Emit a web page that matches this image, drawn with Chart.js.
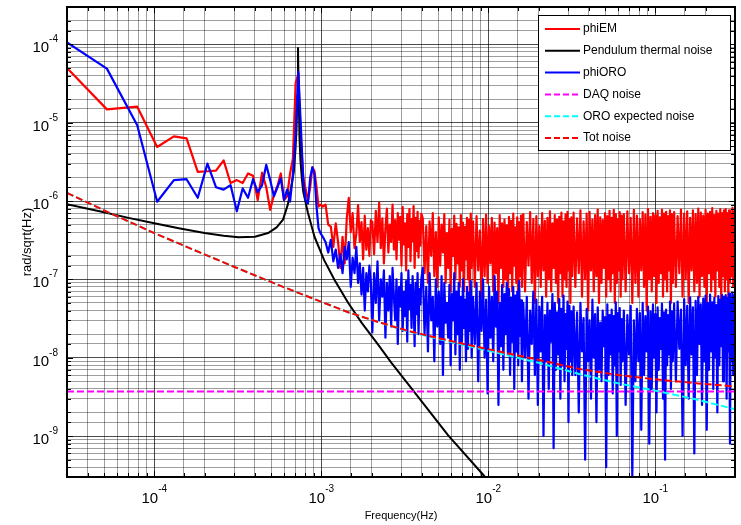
<!DOCTYPE html>
<html>
<head>
<meta charset="utf-8">
<script src="https://cdn.jsdelivr.net/npm/chart.js@4/dist/chart.umd.min.js"></script>
<style>
  html, body { margin: 0; padding: 0; background: #fff; }
  canvas { display: block; }
</style>
</head>
<body>
<canvas id="myChart" width="741" height="525"></canvas>
<script>
// ---- data ----
// low-frequency bins (Hz), shared by phiEM and phiORO
const lowFreq = [3e-5, 5.2e-5, 7.9e-5, 1.04e-4, 1.31e-4, 1.56e-4, 1.82e-4, 2.08e-4, 2.34e-4, 2.6e-4,
  2.86e-4, 3.12e-4, 3.38e-4, 3.64e-4, 3.9e-4, 4.16e-4, 4.42e-4, 4.68e-4, 4.94e-4, 5.2e-4,
  5.46e-4, 5.72e-4, 5.98e-4, 6.24e-4, 6.5e-4, 6.76e-4, 7.02e-4, 7.28e-4, 7.54e-4];
const emLow = [5.0e-5, 1.48e-5, 1.6e-5, 4.9e-6, 6.7e-6, 6.3e-6, 2.36e-6, 2.4e-6, 2.45e-6, 3.3e-6,
  1.7e-6, 1.85e-6, 1.7e-6, 2.25e-6, 2.1e-6, 1.03e-6, 2.3e-6, 1.5e-6, 7.7e-7, 1.2e-6,
  1.55e-6, 2.25e-6, 1.03e-6, 1.15e-6, 2.25e-6, 3.5e-6, 3.2e-5, 4.2e-5, 6e-6];
const oroLow = [1.06e-4, 4.9e-5, 9.3e-6, 9.8e-7, 1.85e-6, 1.9e-6, 1.1e-6, 3.0e-6, 1.5e-6, 1.4e-6,
  1.6e-6, 7.4e-7, 1.45e-6, 1.1e-6, 1.9e-6, 1.3e-6, 1.6e-6, 2.9e-6, 1.85e-6, 1.15e-6,
  1.5e-6, 1.95e-6, 1.03e-6, 1.4e-6, 9.8e-7, 2.2e-6, 7.3e-6, 4.5e-5, 9e-6];

// high-frequency samples, frequency in mHz
const hfFreqMHz = [
  0.78, 0.806, 0.832, 0.858, 0.884, 0.91, 0.936, 0.962, 0.988,
  1.02, 1.06, 1.1, 1.14, 1.18, 1.22, 1.26, 1.3, 1.34, 1.38, 1.42, 1.46, 1.5, 1.54, 1.58, 1.62, 1.66, 1.7, 1.74, 1.78, 1.82, 1.86, 1.9, 1.94, 1.98,
  2.02, 2.07, 2.12, 2.17, 2.22, 2.27, 2.32, 2.37, 2.42, 2.47, 2.52, 2.57, 2.62, 2.67, 2.72, 2.77, 2.82, 2.87, 2.92, 2.97,
  3.02, 3.07, 3.12, 3.17, 3.22, 3.27, 3.32, 3.37, 3.42, 3.47, 3.52, 3.57, 3.62, 3.67, 3.72, 3.77, 3.82, 3.87, 3.92, 3.97,
  4.05, 4.15, 4.25, 4.35, 4.45, 4.55, 4.65, 4.75, 4.85, 4.95, 5.05, 5.15, 5.25, 5.35, 5.45, 5.55, 5.65, 5.75, 5.85, 5.95,
  6.05, 6.15, 6.25, 6.35, 6.45, 6.55, 6.65, 6.75, 6.85, 6.95, 7.05, 7.15, 7.25, 7.35, 7.45, 7.55, 7.65, 7.75, 7.85, 7.95,
  8.1, 8.3, 8.5, 8.7, 8.9, 9.1, 9.3, 9.5, 9.7, 9.9, 10.1, 10.3, 10.5, 10.7, 10.9, 11.1, 11.3, 11.5, 11.7, 11.9,
  12.1, 12.3, 12.5, 12.7, 12.9, 13.1, 13.3, 13.5, 13.7, 13.9, 14.1, 14.3, 14.5, 14.7, 14.9, 15.1, 15.3, 15.5, 15.7, 15.9,
  16.2, 16.6, 17, 17.4, 17.8, 18.2, 18.6, 19, 19.4, 19.8, 20.2, 20.6, 21, 21.4, 21.8, 22.2, 22.6, 23, 23.4, 23.8,
  24.2, 24.6, 25, 25.4, 25.8, 26.2, 26.6, 27, 27.4, 27.8, 28.2, 28.6, 29, 29.4, 29.8, 30.2, 30.6, 31, 31.4, 31.8,
  32.4, 33.2, 34, 34.8, 35.6, 36.4, 37.2, 38, 38.8, 39.6, 40.4, 41.2, 42, 42.8, 43.6, 44.4, 45.2, 46, 46.8, 47.6,
  48.4, 49.2, 50, 50.8, 51.6, 52.4, 53.2, 54, 54.8, 55.6, 56.4, 57.2, 58, 58.8, 59.6, 60.4, 61.2, 62, 62.8, 63.6,
  64.8, 66.4, 68, 69.6, 71.2, 72.8, 74.4, 76, 77.6, 79.2, 80.8, 82.4, 84, 85.6, 87.2, 88.8, 90.4, 92, 93.6, 95.2,
  96.8, 98.4, 100, 101.6, 103.2, 104.8, 106.4, 108, 109.6, 111.2, 112.8, 114.4, 116, 117.6, 119.2, 120.8, 122.4, 124, 125.6, 127.2,
  129.6, 132.8, 136, 139.2, 142.4, 145.6, 148.8, 152, 155.2, 158.4, 161.6, 164.8, 168, 171.2, 174.4, 177.6, 180.8, 184, 187.2, 190.4,
  193.6, 196.8, 200, 203.2, 206.4, 209.6, 212.8, 216, 219.2, 222.4, 225.6, 228.8, 232, 235.2, 238.4, 241.6, 244.8, 248, 251.2, 254.4,
  257.6, 260.8, 264, 267.2, 270.4, 273.6, 276.8, 280, 283.2, 286.4, 289.6, 292.8, 296, 299.2, 302.4
];
// phiEM, units of 1e-7 rad/sqrt(Hz)
const emHighE7 = [
  20, 14, 10.3, 15, 27, 24, 15, 8.5, 9,
  8.5, 9, 5, 4.7, 2.6, 5.2, 3, 1.4, 3.5, 1.6, 6, 11, 4, 7, 2.5, 3.8, 8.9, 3, 5.4, 1.8, 6.5, 2.4, 4.5, 2, 5.7,
  5.4, 2.1, 7.5, 3, 9.5, 2.5, 6, 1.6, 4.5, 8, 2.2, 5, 3, 9, 2.4, 5.7, 1.8, 7, 3.2, 6.3,
  1.5, 8.4, 2.8, 5.2, 1.3, 6.8, 2.6, 7.9, 1.7, 5.9, 3.1, 8.6, 1.4, 6.1, 2.3, 7.3, 1.9, 5.6, 2.7, 6.9,
  6, 1.2, 4.8, 0.9, 5.5, 2, 7, 1.1, 4, 0.8, 6.2, 1.5, 5, 2.2, 6.8, 0.9, 3.9, 1.4, 5.8, 0.7,
  4.4, 2, 6.5, 1, 5.1, 1.6, 4.6, 0.8, 6.6, 1.3, 5.3, 0.7, 4.7, 1.8, 6.1, 1, 5.7, 0.6, 6.9, 1.4,
  5.5, 0.8, 6.4, 1.3, 4.2, 0.6, 5.9, 1.1, 6.7, 0.9, 4.8, 1.6, 6.1, 0.7, 5.3, 1.2, 4.5, 0.5, 6.6, 1.4,
  5.2, 0.8, 5.8, 1, 4.9, 0.6, 6.3, 1.2, 5.6, 0.7, 6.9, 1.5, 4.6, 0.9, 6.2, 0.5, 5.4, 1.1, 6.5, 0.8,
  6.8, 0.7, 5.4, 1.5, 7.2, 0.9, 5.9, 0.5, 6.4, 1.1, 4.8, 0.8, 7, 1.3, 5.6, 0.6, 6.1, 1, 7.4, 0.7,
  5.2, 1.4, 6.6, 0.9, 5.8, 0.5, 6.3, 1.2, 7.1, 0.6, 5.5, 1, 6.7, 0.8, 7.3, 1.3, 5.9, 0.5, 6.2, 1.1,
  7.1, 0.8, 6, 1.2, 7.6, 0.6, 5.5, 1, 6.9, 0.4, 7.3, 1.3, 5.8, 0.7, 6.6, 1.1, 7.8, 0.5, 6.2, 0.9,
  5.7, 1.4, 7, 0.6, 6.4, 1, 7.5, 0.7, 6.1, 1.2, 7.7, 0.5, 6.8, 0.9, 5.9, 1.3, 7.2, 0.6, 6.5, 1,
  6.8, 0.7, 7.4, 1.2, 6.1, 0.5, 7.7, 0.9, 6.5, 0.6, 5.9, 1.3, 7.2, 0.8, 6.7, 0.4, 7.9, 1, 6.3, 0.7,
  7, 1.1, 6.6, 0.5, 7.5, 0.9, 6.2, 1.2, 7.8, 0.6, 6.9, 1, 7.3, 0.7, 6.4, 1.3, 7.6, 0.5, 6.8, 0.9,
  7.2, 0.8, 6.4, 1.2, 7.8, 0.6, 6.9, 1, 7.4, 0.5, 6.1, 1.3, 7.6, 0.7, 6.8, 0.9, 8, 0.6, 7.1, 1.1,
  6.5, 0.8, 7.7, 0.5, 6.9, 1.2, 7.3, 0.7, 8.1, 1, 6.6, 0.6, 7.5, 1.3, 6.9, 0.8, 7.9, 0.5, 7, 1.1,
  7.6, 0.7, 7.9, 1, 7, 0.6, 7.6, 0.9, 6.8, 1.1, 8.2, 0.8, 7.4, 1.2, 8
];
// phiORO, units of 1e-8 rad/sqrt(Hz)
const oroHighE8 = [
  180, 103, 93, 200, 270, 220, 85, 45, 39,
  35, 30, 22, 32, 17, 24, 14, 21, 12, 26, 18, 30, 8, 19, 12, 26, 9, 16, 6.4, 14, 4, 12, 7, 15, 9,
  2.1, 12, 5, 17, 3, 10, 6, 13, 1.8, 9, 4, 11, 2.5, 14, 6, 3, 10, 1.5, 8, 4.5,
  12, 2.2, 7, 3.4, 9.5, 1.6, 13, 4.2, 8.5, 2.4, 11, 5.5, 1.4, 9, 3.6, 12, 2, 7.5, 4.8, 10,
  14, 2, 8, 1.2, 12, 3, 6, 0.9, 10, 2.5, 7, 1.5, 11, 0.6, 9, 2.8, 5, 1.8, 8.5, 0.8,
  6.5, 3, 12, 1.1, 7, 2, 9, 0.7, 6, 1.6, 10, 2.4, 5.5, 0.9, 8, 1.3, 6.8, 2.2, 9.5, 1,
  6, 1.5, 9, 0.5, 7, 2.2, 10, 1, 5.5, 0.35, 8, 1.8, 6, 0.9, 11, 2.5, 7, 0.25, 5, 1.4,
  8.5, 0.7, 6.5, 2, 9, 1.1, 7.5, 0.6, 5.8, 1.6, 8, 0.4, 6.2, 1.2, 7, 0.8, 9.5, 1.9, 5.4, 0.5,
  5, 1, 6, 0.3, 4, 1.5, 7, 0.6, 5.5, 0.25, 4.5, 1.2, 6, 0.1, 3.5, 0.9, 5, 0.4, 4, 1.6,
  6.5, 0.07, 5, 0.7, 3.8, 1.1, 5.6, 0.3, 4.2, 0.8, 6.2, 0.5, 3.6, 1.3, 5.2, 0.15, 4.6, 0.9, 3.9, 0.6,
  4.5, 0.6, 3.8, 0.2, 5, 1.2, 3.2, 0.05, 4.2, 0.9, 3, 0.3, 5.5, 1, 3.6, 0.15, 4.4, 0.7, 2.8, 0.5,
  4, 1.4, 3.3, 0.04, 4.8, 0.6, 3.5, 1.1, 4.1, 0.35, 3.4, 0.8, 5.1, 0.1, 3.7, 1.2, 4.3, 0.45, 3.1, 0.9,
  4, 0.25, 3.5, 1.1, 4.6, 0.03, 3, 0.5, 4.2, 0.9, 3.7, 0.12, 5, 0.6, 3.4, 1.2, 4.5, 0.08, 3.9, 0.4,
  4.8, 1, 3.6, 0.2, 4.4, 0.7, 3.2, 1.3, 4.9, 0.3, 3.8, 0.05, 4.1, 0.8, 3.5, 1.1, 5.2, 0.4, 3.9, 0.9,
  4.9, 0.5, 5.2, 1.3, 4.1, 0.1, 5.6, 0.8, 4.6, 0.3, 5.9, 1.1, 4.4, 0.06, 5.3, 0.6, 6, 1.5, 4.8, 0.25,
  5.7, 0.9, 6.2, 0.12, 5, 0.7, 6.4, 1.2, 5.1, 0.4, 5.8, 1, 4.7, 0.2, 6.1, 0.8, 5.5, 1.4, 6.3, 0.5,
  6, 1, 6.3, 0.3, 5.8, 1.2, 6.6, 0.08, 5.5, 0.9, 6.8, 0.6, 6.2, 1.1, 7
];

// pendulum thermal noise
const pendFreq = [3e-5, 5e-5, 7e-5, 1e-4, 1.4e-4, 2e-4, 2.6e-4, 3.2e-4, 4e-4, 4.8e-4, 5.4e-4, 5.9e-4,
  6.3e-4, 6.6e-4, 6.85e-4, 7.0e-4, 7.1e-4, 7.18e-4, 7.25e-4, 7.32e-4, 7.4e-4, 7.5e-4, 7.65e-4, 7.8e-4,
  8.3e-4, 9.1e-4, 1.04e-3, 1.2e-3, 1.45e-3, 1.75e-3, 2.2e-3, 2.63e-3, 3.6e-3, 5.75e-3, 9.2e-3, 1.2e-2];
const pendVal = [9.1e-7, 7.2e-7, 6.1e-7, 5.2e-7, 4.5e-7, 3.9e-7, 3.6e-7, 3.45e-7, 3.5e-7, 3.9e-7, 4.6e-7, 5.8e-7,
  9.0e-7, 1.5e-6, 2.4e-6, 4.6e-6, 8e-6, 2.2e-5, 9e-5, 2.4e-5, 6.6e-6, 3.3e-6, 1.9e-6, 1.3e-6,
  7.2e-7, 3.5e-7, 1.76e-7, 9.8e-8, 5.0e-8, 2.76e-8, 1.45e-8, 8.6e-9, 3.66e-9, 1.02e-9, 3.3e-10, 1.7e-10];

// noise models
const modelFreq = [3e-5, 5e-5, 1e-4, 1.9e-4, 3e-4, 5.75e-4, 9.5e-4, 1.45e-3, 2.2e-3, 3.3e-3,
  5.2e-3, 8e-3, 1.2e-2, 2e-2, 3.5e-2, 6e-2, 0.1, 0.18, 0.3];
const oroExpected = [1.27e-6, 7.6e-7, 3.9e-7, 2.18e-7, 1.45e-7, 8.2e-8, 5.4e-8, 3.8e-8, 2.85e-8, 2.17e-8,
  1.71e-8, 1.37e-8, 1.12e-8, 8.6e-9, 6.2e-9, 4.7e-9, 3.8e-9, 2.9e-9, 2.2e-9];
const totNoise = [1.27e-6, 7.6e-7, 3.9e-7, 2.18e-7, 1.45e-7, 8.2e-8, 5.4e-8, 3.8e-8, 2.85e-8, 2.2e-8,
  1.75e-8, 1.42e-8, 1.18e-8, 9.4e-9, 7.2e-9, 6.0e-9, 5.3e-9, 4.7e-9, 4.3e-9];
const daqFreq = [3e-5, 0.3];
const daqVal = [3.7e-9, 3.7e-9];

// ---- build datasets ----
function pts(xs, ys, xUnit = 1, yUnit = 1) {
  return xs.map((f, i) => ({ x: f * xUnit, y: ys[i] * yUnit }));
}
const emData = pts(lowFreq, emLow).concat(pts(hfFreqMHz, emHighE7, 1e-3, 1e-7));
const oroData = pts(lowFreq, oroLow).concat(pts(hfFreqMHz, oroHighE8, 1e-3, 1e-8));

function isDecade(v) {
  const l = Math.log10(v);
  return Math.abs(l - Math.round(l)) < 1e-6;
}

const FONT = "'Liberation Sans', Arial, Helvetica, sans-serif";

const decor = {
  id: "decor",
  afterDatasetsDraw(chart) {
    const { ctx, chartArea: a, scales } = chart;
    const xs = scales.x, ys = scales.y;
    ctx.save();

    // inner tick marks on all four sides
    ctx.strokeStyle = "#000";
    ctx.lineWidth = 1;
    ctx.beginPath();
    xs.ticks.forEach((t) => {
      const px = Math.round(xs.getPixelForValue(t.value)) + 0.5;
      const len = isDecade(t.value) ? 6 : 4;
      ctx.moveTo(px, a.bottom); ctx.lineTo(px, a.bottom - len);
      ctx.moveTo(px, a.top); ctx.lineTo(px, a.top + len);
    });
    ys.ticks.forEach((t) => {
      const py = Math.round(ys.getPixelForValue(t.value)) + 0.5;
      const len = isDecade(t.value) ? 6 : 4;
      ctx.moveTo(a.left, py); ctx.lineTo(a.left + len, py);
      ctx.moveTo(a.right, py); ctx.lineTo(a.right - len, py);
    });
    ctx.stroke();

    // frame
    ctx.lineWidth = 2;
    ctx.strokeRect(a.left, a.top, a.right - a.left, a.bottom - a.top);

    // decade labels 10^n
    ctx.fillStyle = "#000";
    ctx.textBaseline = "alphabetic";
    ctx.textAlign = "left";
    const big = "15px " + FONT, small = "10px " + FONT;
    xs.ticks.filter((t) => isDecade(t.value)).forEach((t) => {
      const e = String(Math.round(Math.log10(t.value)));
      ctx.font = big; const w1 = ctx.measureText("10").width;
      ctx.font = small; const w2 = ctx.measureText(e).width;
      const x0 = xs.getPixelForValue(t.value) - (w1 + w2) / 2;
      ctx.font = big; ctx.fillText("10", x0, a.bottom + 26);
      ctx.font = small; ctx.fillText(e, x0 + w1, a.bottom + 15);
    });
    ys.ticks.filter((t) => isDecade(t.value)).forEach((t) => {
      const e = String(Math.round(Math.log10(t.value)));
      ctx.font = big; const w1 = ctx.measureText("10").width;
      ctx.font = small; const w2 = ctx.measureText(e).width;
      const py = ys.getPixelForValue(t.value);
      const xr = a.left - 9;
      ctx.font = big; ctx.fillText("10", xr - w2 - w1, py + 8);
      ctx.font = small; ctx.fillText(e, xr - w2, py - 2);
    });

    // axis titles
    ctx.font = "11px " + FONT;
    ctx.textAlign = "center";
    ctx.fillText("Frequency(Hz)", (a.left + a.right) / 2, 519);
    ctx.save();
    ctx.translate(31, (a.top + a.bottom) / 2);
    ctx.rotate(-Math.PI / 2);
    ctx.font = "13px " + FONT;
    ctx.fillText("rad/sqrt(Hz)", 0, 0);
    ctx.restore();

    // legend box
    const lx = 538, ly = 15, lw = 192, lh = 135;
    ctx.fillStyle = "#fff";
    ctx.fillRect(lx, ly, lw, lh);
    ctx.strokeStyle = "#000";
    ctx.lineWidth = 1;
    ctx.strokeRect(lx + 0.5, ly + 0.5, lw, lh);
    ctx.font = "12px " + FONT;
    ctx.textAlign = "left";
    ctx.textBaseline = "middle";
    chart.data.datasets.forEach((ds, i) => {
      const cy = ly + 14 + i * 21.8;
      ctx.strokeStyle = ds.borderColor;
      ctx.lineWidth = 2;
      ctx.setLineDash(ds.borderDash ? [6, 3] : []);
      ctx.beginPath();
      ctx.moveTo(545, cy);
      ctx.lineTo(580, cy);
      ctx.stroke();
      ctx.setLineDash([]);
      ctx.fillStyle = "#000";
      ctx.fillText(ds.label, 583, cy);
    });
    ctx.restore();
  },
};

function gridColor(c) {
  if (!c.tick) return "rgba(0,0,0,0.4)";
  return isDecade(c.tick.value) ? "rgba(0,0,0,0.7)" : "rgba(0,0,0,0.38)";
}

const ctx = document.getElementById("myChart").getContext("2d");
const myChart = new Chart(ctx, {
  type: "line",
  data: {
    datasets: [
      { label: "phiEM", data: emData, borderColor: "#ff0000", borderWidth: 2.2, order: 5 },
      { label: "Pendulum thermal noise", data: pts(pendFreq, pendVal), borderColor: "#000000", order: 4 },
      { label: "phiORO", data: oroData, borderColor: "#0000ff", borderWidth: 2.2, order: 3 },
      { label: "DAQ noise", data: pts(daqFreq, daqVal), borderColor: "#ff00ff", borderDash: [7, 3], order: 2 },
      { label: "ORO expected noise", data: pts(modelFreq, oroExpected), borderColor: "#00ffff", borderDash: [7, 3], order: 1 },
      { label: "Tot noise", data: pts(modelFreq, totNoise), borderColor: "#ff0000", borderDash: [7, 3], order: 0 },
    ],
  },
  options: {
    responsive: false,
    animation: false,
    layout: { padding: { left: 67, top: 7, right: 6, bottom: 48 } },
    elements: {
      point: { radius: 0, hoverRadius: 0 },
      line: { tension: 0, borderWidth: 2, fill: false, borderJoinStyle: "round" },
    },
    plugins: { legend: { display: false }, tooltip: { enabled: false } },
    scales: {
      x: {
        type: "logarithmic",
        min: 3e-5,
        max: 0.3,
        ticks: { display: false },
        border: { display: false },
        grid: { drawTicks: false, color: gridColor, lineWidth: 1 },
      },
      y: {
        type: "logarithmic",
        min: 3e-10,
        max: 3e-4,
        ticks: { display: false },
        border: { display: false },
        grid: { drawTicks: false, color: gridColor, lineWidth: 1 },
      },
    },
  },
  plugins: [decor],
});
</script>
</body>
</html>
